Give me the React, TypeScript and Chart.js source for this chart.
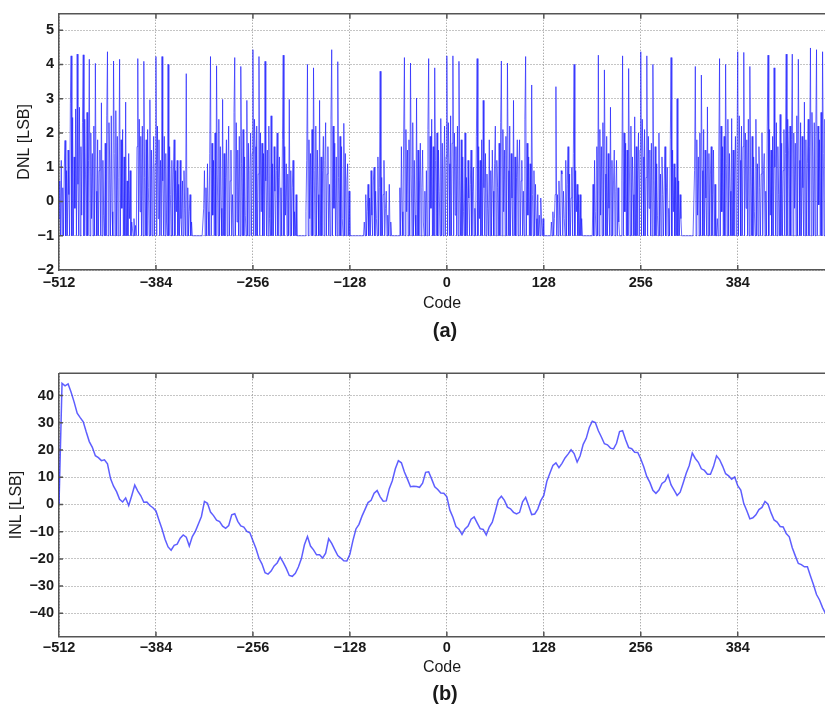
import React, { useEffect, useRef } from 'react';
import { Chart, registerables } from 'chart.js';

Chart.register(...registerables);

// ---------- axis ticks ----------
const xTickValues = [-512, -384, -256, -128, 0, 128, 256, 384, 512];
const dnlTickValues = [-2, -1, 0, 1, 2, 3, 4, 5];
const inlTickValues = [-40, -30, -20, -10, 0, 10, 20, 30, 40];

// ---------- DNL [LSB], one value per code, 128 codes per array ----------
const dnlSeg1 = [
  -0.5, 0.6, -1, 1.2, -1, 0.4, -1, 1.0,
  1.78, -1, 0.9, -1, 1.5, 0.2, -1, 2.85,
  4.25, -1, 2.45, -1, 1.3, -0.2, 2.7, -1,
  4.3, 0.5, -1, 2.75, -1, 1.6, -0.4, 2.3,
  4.28, -1, 2.4, 0.8, -1, 2.6, -1, 1.2,
  4.15, -1, 2.0, -0.5, 1.4, -1, 2.2, -1,
  4.03, 0.3, -1, 1.8, -1, 0.9, 1.5, -1,
  2.88, -1, 1.2, -0.4, -1, 1.7, -1, 2.5,
  4.37, -1, 2.3, 1.0, -1, 2.5, -0.3, -1,
  4.1, 1.4, -1, 2.65, -1, 1.9, -1, 0.7,
  4.15, -1, 1.8, -0.2, 2.1, -1, 1.3, -1,
  2.9, -1, 0.6, -1, 1.4, -0.5, 0.9, -1,
  -0.6, -0.8, -1, -0.5, -1, -0.7, -1, 1.6,
  4.17, -1, 2.4, -0.3, 1.9, -1, 2.2, -1,
  4.09, 0.7, -1, 1.8, -1, 2.1, 0.4, -1,
  2.97, -1, 1.5, -1, 0.8, 1.9, -1, 1.1,
];
const dnlSeg2 = [
  4.23, -1, 2.2, -0.5, 1.8, -1, 1.2, -1,
  4.23, 0.6, -1, 1.9, -1, 1.4, -0.6, -1,
  4.0, -1, 1.6, 0.2, -1, 1.2, -1, 0.8,
  1.8, -1, 0.9, -0.3, 1.2, -1, 0.5, -1,
  1.2, -0.5, -1, 0.6, -1, 0.9, -0.2, -1,
  3.73, -1, 0.4, -1, -0.3, 0.2, -1, -0.6,
  -1, -1, -1, -1, -1, -1, -1, -1,
  -1, -1, -1, -1, -1, -1, -1, -0.2,
  0.9, -1, 0.4, -1, 1.1, -0.3, -1, 1.4,
  4.23, -1, 1.7, -0.4, 1.2, -1, 2.0, -1,
  3.96, 0.8, -1, 2.4, -1, 1.6, -0.2, -1,
  2.98, -1, 1.4, -1, 0.7, 1.8, -1, 1.0,
  2.2, -1, 0.6, 1.5, -1, 0.2, -1, 2.6,
  4.2, -1, 2.3, -0.6, 1.5, -1, 1.9, -1,
  3.94, 1.1, -1, 2.1, -1, 1.3, -0.4, -1,
  2.95, -1, 1.7, -1, 0.9, 2.0, -1, 1.4,
];
const dnlSeg3 = [
  4.43, -1, 2.4, 1.6, -1, 2.2, -1, 0.8,
  4.23, -1, 2.0, -0.3, 1.7, -1, 1.4, -1,
  4.09, 0.6, -1, 1.5, -1, 2.2, -0.5, -1,
  2.5, -1, 1.1, -1, 1.6, 0.3, -1, 0.9,
  2.0, -1, 0.7, 1.3, -1, 0.4, -1, 1.8,
  4.27, -1, 1.6, -0.4, 1.1, -1, 0.8, -1,
  2.98, -1, 0.9, -1, 0.4, 1.2, -1, -0.3,
  -1, 0.2, -1, -1, -1, -1, -1, -1,
  -1, -1, -1, -1, -1, -1, -0.3, 1.2,
  4.0, -1, 1.8, -0.5, 1.4, -1, 2.1, -1,
  3.9, 0.9, -1, 2.2, -1, 1.5, 0.2, -1,
  2.95, -1, 1.3, -1, 0.9, 1.9, -1, 1.2,
  2.3, -1, 0.8, 1.6, -1, 0.5, -1, 2.4,
  4.43, -1, 2.2, -0.2, 1.7, -1, 1.3, -1,
  4.08, 0.7, -1, 1.9, -1, 1.6, -0.5, -1,
  2.28, -1, 1.4, -1, 0.6, 1.1, -1, 0.3,
];
const dnlSeg4 = [
  -1, -1, -1, -1, -1, -1, -1, -1,
  -1, -1, -1, -1, -1, -1, -1, -1,
  -1, -1, -1, -0.6, -1, 0.2, -1, -0.3,
  0.5, -1, 0.1, -1, 0.9, -0.4, -1, 0.6,
  1.0, -1, 0.3, -0.5, -1, 1.3, -1, 0.4,
  3.8, -1, 0.7, -1, 0.2, 1.2, -1, -0.2,
  0.3, -1, -0.4, -1, 0.5, -1, -0.6, -1,
  -1, -1, -1, -1, -1, -1, -1, -1,
  -1, -1, 0.4, -1, 1.6, -0.3, -1, 2.0,
  4.2, -1, 2.1, -0.3, 1.5, -1, 1.8, -1,
  4.04, 0.8, -1, 2.3, -1, 1.2, -0.4, -1,
  3.02, -1, 1.5, -1, 0.6, 1.7, -1, 0.4,
  1.5, -0.6, -1, 0.3, -1, 0.9, -1, 2.1,
  4.17, -1, 1.9, -0.2, 2.4, -1, 1.6, -1,
  3.9, 1.2, -1, 2.0, -1, 1.5, 0.3, -1,
  2.42, -1, 1.7, -1, 0.8, 2.2, -1, 1.3,
];
const dnlSeg5 = [
  4.25, -1, 2.3, 1.1, -1, 2.5, -1, 1.7,
  4.25, -1, 2.0, -0.4, 1.6, -1, 2.2, -1,
  4.09, 0.6, -1, 1.8, -1, 1.3, -0.3, -1,
  2.0, -1, 0.7, -1, 1.2, 0.1, -1, 0.5,
  1.5, -1, 0.3, 1.0, -1, -0.2, -1, 1.9,
  4.17, -1, 1.6, -0.5, 1.2, -1, 1.8, -1,
  2.95, 0.4, -1, 1.4, -1, 0.8, -0.2, -1,
  1.8, -1, 0.9, -1, 1.5, 0.3, -1, 1.1,
  2.2, -1, 1.2, 0.4, -1, 1.7, -1, 2.3,
  4.1, -1, 2.1, -0.3, 1.5, -1, 1.9, -1,
  4.04, 0.9, -1, 2.2, -1, 1.4, 0.1, -1,
  2.95, -1, 1.3, -1, 0.7, 1.8, -1, 1.0,
  1.8, -1, 0.6, 1.2, -1, 0.3, -1, 2.4,
  4.23, -1, 1.7, -0.4, 1.3, -1, 1.1, -1,
  3.4, 0.2, -1, 0.9, -1, 0.5, -0.5, -1,
  0.2, -1, -0.4, -1, 0.1, -0.6, -1, -0.5,
];
const dnlSeg6 = [
  -1, -1, -1, -1, -1, -1, -1, -1,
  -1, -1, -0.6, -1, -0.3, -1, -0.5, 0.2,
  3.35, -1, 0.2, -1, 0.6, -0.4, -1, 0.9,
  0.8, -1, 0.3, -0.5, -1, 1.2, -1, 0.5,
  1.6, -1, 0.8, -1, 0.1, 1.0, -1, 1.4,
  4.0, -1, 0.9, -0.3, 0.5, -1, 0.2, -1,
  0.2, -1, -0.5, -1, -1, -1, -1, -1,
  -1, -1, -1, -1, -1, -1, -1, -1,
  -1, 0.5, -1, 1.2, -0.3, -1, 1.6, -1,
  4.27, -1, 2.1, -0.4, 1.6, -1, 2.3, -1,
  3.84, 0.8, -1, 1.9, -1, 1.4, -0.2, -1,
  2.75, -1, 1.2, -1, 0.6, 1.5, -1, 0.3,
  1.2, -1, 0.4, -0.6, -1, -1, -1, 0.6,
  4.25, -1, 2.0, -0.3, 1.7, -1, 1.5, -1,
  3.88, 1.0, -1, 2.2, -1, 1.3, 0.2, -1,
  2.47, -1, 1.6, -1, 0.9, 2.0, -1, 1.5,
];
const dnlSeg7 = [
  4.37, -1, 2.4, 1.3, -1, 2.1, -1, 0.7,
  4.25, -1, 1.9, -0.2, 1.5, -1, 1.7, -1,
  4.0, 0.6, -1, 1.6, -1, 1.1, -0.4, -1,
  2.0, -1, 0.8, -1, 1.3, 0.2, -1, 0.6,
  1.6, -1, 0.4, 1.0, -1, -0.2, -1, 1.8,
  4.2, -1, 1.5, -0.3, 1.1, -1, 0.7, -1,
  3.0, -1, 0.6, -1, 0.2, -0.5, -1, -1,
  -1, -1, -1, -1, -1, -1, -1, -1,
  -1, -1, -1, -1, -1, -1, -1, 0.9,
  3.94, -1, 1.8, -0.4, 1.3, -1, 2.0, -1,
  3.69, 0.9, -1, 2.1, -1, 1.5, 0.1, -1,
  2.76, -1, 1.4, -1, 0.8, 1.6, -1, 0.2,
  1.5, -1, 0.5, -1, -1, -0.5, -1, 1.3,
  4.17, -1, 2.2, -0.3, 1.6, -1, 1.9, -1,
  4.0, 1.1, -1, 2.4, -1, 1.4, 0.3, -1,
  2.42, -1, 1.5, -1, 0.8, 1.9, -1, 1.3,
];
const dnlSeg8 = [
  4.37, -1, 2.5, 1.2, -1, 2.2, -1, 1.6,
  4.35, -1, 2.0, -0.2, 1.8, -1, 2.4, -1,
  3.94, 0.8, -1, 1.9, -1, 1.3, -0.3, -1,
  2.4, -1, 1.1, -1, 1.6, 0.4, -1, 0.8,
  2.0, -1, 0.9, 1.4, -1, 0.3, -1, 2.2,
  4.27, -1, 2.1, -0.4, 1.5, -1, 1.9, -1,
  3.9, 1.0, -1, 2.3, -1, 1.6, 0.2, -1,
  2.54, -1, 1.7, -1, 0.9, 2.1, -1, 1.4,
  4.3, -1, 2.4, 1.5, -1, 2.2, -1, 1.8,
  4.3, -1, 2.0, -0.2, 1.7, -1, 2.5, -1,
  4.15, 1.2, -1, 2.3, -1, 1.9, 0.4, -1,
  2.9, -1, 1.8, -1, 1.1, 2.4, -1, 1.6,
  4.48, -1, 2.6, 1.3, -1, 2.3, -1, 1.9,
  4.43, -1, 2.2, -0.1, 1.8, -1, 2.6, -1,
  4.37, 1.4, -1, 2.4, -1, 1.7, 0.5, -1,
  2.5, -1, 1.9, -1, 1.2, 2.3, -1, 1.5,
];

// ---------- INL [LSB], sampled every 4 codes, 32 samples per array ----------
const inlSeg1 = [0, 44.5, 43.6, 44.3, 41.2, 37.6, 33.5, 31.9, 30.4, 26.6, 23.1, 21, 17.9, 17.2, 16.1, 16.4,
  14.9, 9.5, 6.7, 4.7, 1.9, 0.9, 2.4, -0.4, 3.2, 7.1, 4.9, 3.2, 0.8, 0.9, -0.4, -1.2];
const inlSeg2 = [-2.4, -5.8, -9, -12.8, -15.6, -16.8, -15, -14.6, -12.4, -11.2, -12, -15.3, -11.8, -9.9, -7.2, -4.4,
  1.1, 0.4, -2.8, -4.1, -5.8, -6.3, -8, -8.8, -7.8, -3.8, -3.4, -6.2, -7.9, -8.3, -9.9, -10.4];
const inlSeg3 = [-13.3, -16.2, -19.8, -21.9, -25.1, -25.6, -24.5, -22.6, -21.5, -19.4, -21.3, -23.5, -26.1, -26.4, -25.3, -23,
  -19.9, -14.8, -11.8, -15.3, -16.7, -18.5, -18.5, -19.7, -17.9, -12.6, -14.3, -16.6, -18.8, -19.7, -20.7, -20.8];
const inlSeg4 = [-18.3, -13.3, -9, -7.3, -4.3, -1.8, 0.7, 1.5, 4.1, 5.1, 2.8, 1.2, 1.3, 5.8, 8.7, 13.1,
  16.1, 15.3, 11.9, 9.3, 6.5, 6.7, 6.6, 6.3, 7.8, 11.8, 12, 9.3, 6.5, 5.5, 4.2, 4.1];
const inlSeg5 = [2.8, -2.1, -4.7, -8.1, -9.1, -11, -9, -7.9, -5.4, -4.6, -6.8, -8.9, -9.2, -11.2, -8.3, -6.5,
  -2.6, 1.7, 3, 1.5, -1, -1.6, -2.9, -3.5, -2.9, 1, 2.6, -0.5, -3.7, -3.5, -1.7, 1.4];
const inlSeg6 = [3.3, 8.5, 11.5, 14.3, 15.3, 13.5, 15.1, 17.1, 18.5, 20.1, 18.7, 15.6, 17.9, 22.1, 24.3, 28.3,
  30.6, 30.1, 27.1, 24.8, 22.3, 21.9, 20.7, 20.4, 22.5, 26.8, 27.1, 23.8, 20.9, 20.5, 19.2, 19.1];
const inlSeg7 = [16.7, 13.8, 10.2, 8.1, 5.2, 4.1, 5.3, 7.7, 8.5, 10.8, 7.2, 5.3, 3.3, 4.5, 7.9, 11.5,
  14.3, 18.9, 16.9, 15.5, 13.1, 12.5, 11.1, 11.1, 13.9, 17.9, 16.5, 14.1, 11.3, 10.5, 9.3, 10.1];
const inlSeg8 = [6.9, 5.3, 0.3, -2.3, -5.3, -4.9, -3.8, -1.9, -1.1, 1.1, 0.1, -3.1, -5.7, -6.5, -8.1, -8.3,
  -10.7, -11.9, -15.9, -18.9, -21.7, -22.1, -22.9, -22.9, -26.3, -29.5, -33.1, -35.1, -37.9, -40.1, -42.3, -43.3];

const dnlValues = [...dnlSeg1, ...dnlSeg2, ...dnlSeg3, ...dnlSeg4, ...dnlSeg5, ...dnlSeg6, ...dnlSeg7, ...dnlSeg8];
const inlValues = [...inlSeg1, ...inlSeg2, ...inlSeg3, ...inlSeg4, ...inlSeg5, ...inlSeg6, ...inlSeg7, ...inlSeg8];
const dnlCodes = dnlValues.map((_, i) => -512 + i);
const inlCodes = inlValues.map((_, i) => -512 + 4 * i);

const FONT = "'Liberation Sans', Arial, Helvetica, sans-serif";
const TEXT = '#1a1a1a';
const AXIS = '#555555';

const fmt = (v: number) => (v < 0 ? '\u2212' + Math.abs(v) : String(v));

const framePlugin = {
  id: 'matlabFrame',
  afterDraw(chart: any) {
    const { ctx, chartArea: a, scales } = chart;
    ctx.save();
    ctx.strokeStyle = AXIS;
    ctx.lineWidth = 1.5;
    ctx.beginPath();
    ctx.moveTo(a.left, a.top);
    ctx.lineTo(a.right, a.top);
    ctx.stroke();
    ctx.lineWidth = 1.5;
    ctx.beginPath();
    for (const t of scales.x.ticks) {
      const px = scales.x.getPixelForValue(t.value);
      if (px <= a.left + 1 || px >= a.right) continue;
      ctx.moveTo(px, a.top);
      ctx.lineTo(px, a.top + 5);
      ctx.moveTo(px, a.bottom);
      ctx.lineTo(px, a.bottom - 5);
    }
    for (const t of scales.y.ticks) {
      const py = scales.y.getPixelForValue(t.value);
      if (py >= a.bottom - 1 || py <= a.top + 1) continue;
      ctx.moveTo(a.left, py);
      ctx.lineTo(a.left + 4, py);
    }
    ctx.stroke();
    ctx.restore();
  },
};

function makeConfig(p: {
  codes: number[]; values: number[]; yTicks: number[]; yMin: number; yMax: number;
  yTitle: string; yTitlePad: number; padTop: number; xHeight: number; xTickPad: number; xTitlePad: number; lineWidth: number; color: string;
}): any {
  return {
    type: 'line',
    data: {
      datasets: [{
        data: p.codes.map((c, i) => ({ x: c, y: p.values[i] })),
        borderColor: p.color,
        borderWidth: p.lineWidth,
        pointRadius: 0,
        tension: 0,
        fill: false,
      }],
    },
    options: {
      animation: false,
      responsive: false,
      events: [],
      layout: { padding: { top: p.padTop, left: 0, right: 0, bottom: 0 } },
      plugins: { legend: { display: false }, tooltip: { enabled: false }, title: { display: false } },
      scales: {
        x: {
          type: 'linear',
          min: -512,
          max: 499.2,
          afterBuildTicks: (s: any) => {
            s.ticks = xTickValues.filter((v) => v >= s.min && v <= s.max).map((v) => ({ value: v }));
          },
          afterFit: (s: any) => { s.height = p.xHeight; },
          ticks: {
            autoSkip: false, maxRotation: 0, padding: p.xTickPad, color: TEXT,
            font: { family: FONT, size: 14.5, weight: 'bold' },
            callback: (v: number) => fmt(v),
          },
          grid: { color: '#8a8a8a', drawTicks: false, lineWidth: 1 },
          border: { display: true, color: AXIS, width: 1.5, dash: [1, 2] },
          title: { display: true, text: 'Code', color: TEXT, font: { family: FONT, size: 16 }, padding: { top: 0, bottom: p.xTitlePad } },
        },
        y: {
          type: 'linear',
          min: p.yMin,
          max: p.yMax,
          afterBuildTicks: (s: any) => {
            s.ticks = p.yTicks.map((v) => ({ value: v }));
          },
          afterFit: (s: any) => { s.width = 59; },
          ticks: {
            padding: 5, color: TEXT,
            font: { family: FONT, size: 14.5, weight: 'bold' },
            callback: (v: number) => fmt(v),
          },
          grid: { color: '#8a8a8a', drawTicks: false, lineWidth: 1 },
          border: { display: true, color: AXIS, width: 1.5, dash: [1, 2] },
          title: { display: true, text: p.yTitle, color: TEXT, font: { family: FONT, size: 16 }, padding: { top: p.yTitlePad, bottom: 0 } },
        },
      },
    },
    plugins: [framePlugin],
  };
}

export default function App() {
  const topRef = useRef<HTMLCanvasElement | null>(null);
  const botRef = useRef<HTMLCanvasElement | null>(null);

  useEffect(() => {
    const c1 = new Chart(topRef.current as HTMLCanvasElement, makeConfig({
      codes: dnlCodes, values: dnlValues, yTicks: dnlTickValues, yMin: -2, yMax: 5.48,
      yTitle: 'DNL [LSB]', yTitlePad: 15, padTop: 8.3, xHeight: 75, xTickPad: 4.6, xTitlePad: 31.4,
      lineWidth: 1, color: 'rgba(30,30,255,0.66)',
    }));
    const c2 = new Chart(botRef.current as HTMLCanvasElement, makeConfig({
      codes: inlCodes, values: inlValues, yTicks: inlTickValues, yMin: -48.6, yMax: 48.2,
      yTitle: 'INL [LSB]', yTitlePad: 7, padTop: 28.3, xHeight: 70.3, xTickPad: 2.9, xTitlePad: 29.4,
      lineWidth: 1.5, color: 'rgba(40,40,255,0.75)',
    }));
    return () => { c1.destroy(); c2.destroy(); };
  }, []);

  const capStyle: React.CSSProperties = {
    position: 'absolute', left: 395, width: 100, textAlign: 'center',
    fontFamily: FONT, fontWeight: 'bold', fontSize: 20, lineHeight: '24px', color: TEXT,
  };

  return (
    <div style={{ position: 'absolute', left: 0, top: 0, width: 825, height: 707, overflow: 'hidden', background: '#fff' }}>
      <canvas ref={topRef} width={825} height={345} style={{ position: 'absolute', left: 0, top: 0, width: 825, height: 345 }} />
      <canvas ref={botRef} width={825} height={362} style={{ position: 'absolute', left: 0, top: 345, width: 825, height: 362 }} />
      <div style={{ ...capStyle, top: 318 }}>(a)</div>
      <div style={{ ...capStyle, top: 681 }}>(b)</div>
    </div>
  );
}
